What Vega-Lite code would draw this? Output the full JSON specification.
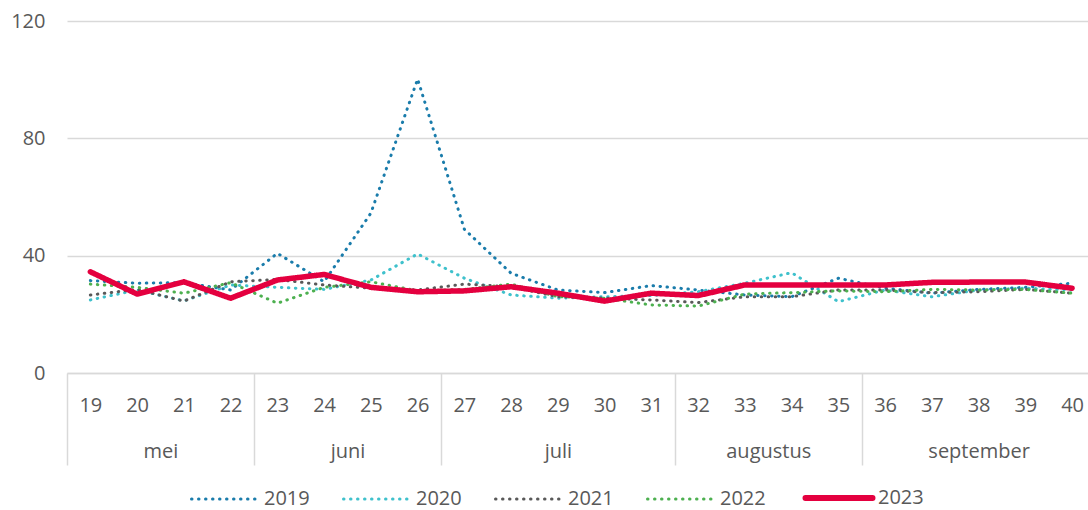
{
  "$schema": "https://vega.github.io/schema/vega-lite/v6.json",
  "width": 1021,
  "height": 352,
  "autosize": {"type": "none"},
  "padding": {"left": 67, "top": 21, "right": 0, "bottom": 137},
  "background": "white",
  "config": {
    "font": "Open Sans",
    "view": {"stroke": null},
    "axis": {"labelColor": "#595959", "labelFontSize": 20, "title": null}
  },
  "datasets": {
    "series": [
      {"week":19,"year":"2019","value":31.5},{"week":20,"year":"2019","value":30.6},{"week":21,"year":"2019","value":30.8},{"week":22,"year":"2019","value":28.3},{"week":23,"year":"2019","value":40.8},{"week":24,"year":"2019","value":31.1},{"week":25,"year":"2019","value":54.5},{"week":26,"year":"2019","value":100.2},{"week":27,"year":"2019","value":49.0},{"week":28,"year":"2019","value":34.0},{"week":29,"year":"2019","value":28.3},{"week":30,"year":"2019","value":27.4},{"week":31,"year":"2019","value":29.8},{"week":32,"year":"2019","value":28.3},{"week":33,"year":"2019","value":26.6},{"week":34,"year":"2019","value":26.0},{"week":35,"year":"2019","value":32.3},{"week":36,"year":"2019","value":28.9},{"week":37,"year":"2019","value":27.2},{"week":38,"year":"2019","value":28.5},{"week":39,"year":"2019","value":29.2},{"week":40,"year":"2019","value":30.6},
      {"week":19,"year":"2020","value":24.9},{"week":20,"year":"2020","value":28.3},{"week":21,"year":"2020","value":24.6},{"week":22,"year":"2020","value":30.0},{"week":23,"year":"2020","value":29.2},{"week":24,"year":"2020","value":28.5},{"week":25,"year":"2020","value":31.7},{"week":26,"year":"2020","value":40.6},{"week":27,"year":"2020","value":32.3},{"week":28,"year":"2020","value":26.6},{"week":29,"year":"2020","value":25.5},{"week":30,"year":"2020","value":26.0},{"week":31,"year":"2020","value":26.4},{"week":32,"year":"2020","value":27.7},{"week":33,"year":"2020","value":30.6},{"week":34,"year":"2020","value":34.2},{"week":35,"year":"2020","value":24.3},{"week":36,"year":"2020","value":28.3},{"week":37,"year":"2020","value":26.0},{"week":38,"year":"2020","value":28.3},{"week":39,"year":"2020","value":28.9},{"week":40,"year":"2020","value":28.3},
      {"week":19,"year":"2021","value":26.6},{"week":20,"year":"2021","value":28.5},{"week":21,"year":"2021","value":24.5},{"week":22,"year":"2021","value":31.1},{"week":23,"year":"2021","value":31.9},{"week":24,"year":"2021","value":30.0},{"week":25,"year":"2021","value":28.9},{"week":26,"year":"2021","value":28.3},{"week":27,"year":"2021","value":30.3},{"week":28,"year":"2021","value":29.4},{"week":29,"year":"2021","value":26.0},{"week":30,"year":"2021","value":25.5},{"week":31,"year":"2021","value":24.9},{"week":32,"year":"2021","value":24.0},{"week":33,"year":"2021","value":26.0},{"week":34,"year":"2021","value":26.0},{"week":35,"year":"2021","value":28.3},{"week":36,"year":"2021","value":28.3},{"week":37,"year":"2021","value":27.4},{"week":38,"year":"2021","value":27.7},{"week":39,"year":"2021","value":28.5},{"week":40,"year":"2021","value":27.2},
      {"week":19,"year":"2022","value":30.3},{"week":20,"year":"2022","value":29.2},{"week":21,"year":"2022","value":27.2},{"week":22,"year":"2022","value":30.8},{"week":23,"year":"2022","value":23.8},{"week":24,"year":"2022","value":29.2},{"week":25,"year":"2022","value":31.1},{"week":26,"year":"2022","value":28.0},{"week":27,"year":"2022","value":28.5},{"week":28,"year":"2022","value":30.3},{"week":29,"year":"2022","value":26.0},{"week":30,"year":"2022","value":25.5},{"week":31,"year":"2022","value":23.2},{"week":32,"year":"2022","value":22.8},{"week":33,"year":"2022","value":26.9},{"week":34,"year":"2022","value":27.4},{"week":35,"year":"2022","value":28.0},{"week":36,"year":"2022","value":27.7},{"week":37,"year":"2022","value":28.5},{"week":38,"year":"2022","value":28.3},{"week":39,"year":"2022","value":28.5},{"week":40,"year":"2022","value":27.2},
      {"week":19,"year":"2023","value":34.5},{"week":20,"year":"2023","value":26.9},{"week":21,"year":"2023","value":31.1},{"week":22,"year":"2023","value":25.5},{"week":23,"year":"2023","value":31.7},{"week":24,"year":"2023","value":33.6},{"week":25,"year":"2023","value":29.2},{"week":26,"year":"2023","value":27.7},{"week":27,"year":"2023","value":28.0},{"week":28,"year":"2023","value":29.4},{"week":29,"year":"2023","value":27.2},{"week":30,"year":"2023","value":24.5},{"week":31,"year":"2023","value":27.2},{"week":32,"year":"2023","value":26.4},{"week":33,"year":"2023","value":30.0},{"week":34,"year":"2023","value":30.0},{"week":35,"year":"2023","value":30.0},{"week":36,"year":"2023","value":30.0},{"week":37,"year":"2023","value":30.9},{"week":38,"year":"2023","value":31.0},{"week":39,"year":"2023","value":31.0},{"week":40,"year":"2023","value":28.9}
    ],
    "months": [
      {"month":"mei","start":18.5,"mid":20.5},
      {"month":"juni","start":22.5,"mid":24.5},
      {"month":"juli","start":26.5,"mid":29},
      {"month":"augustus","start":31.5,"mid":33.5},
      {"month":"september","start":35.5,"mid":38}
    ]
  },
  "layer": [
    {
      "data": {"name": "series"},
      "mark": {"type": "line", "strokeCap": "round", "strokeJoin": "round"},
      "encoding": {
        "x": {
          "field": "week", "type": "quantitative",
          "scale": {"domain": [18.5, 40.34], "nice": false, "zero": false},
          "axis": {
            "orient": "bottom",
            "values": [19,20,21,22,23,24,25,26,27,28,29,30,31,32,33,34,35,36,37,38,39,40],
            "format": "d",
            "grid": false, "ticks": false,
            "domain": true, "domainColor": "#D9D9D9", "domainWidth": 1.5,
            "labelPadding": 22, "labelFlush": false, "labelOverlap": false
          }
        },
        "y": {
          "field": "value", "type": "quantitative",
          "scale": {"domain": [0, 120], "nice": false},
          "axis": {
            "values": [0, 40, 80, 120],
            "grid": true, "gridColor": "#D9D9D9", "gridWidth": 1.5,
            "domain": false, "ticks": false, "labelPadding": 22
          }
        },
        "color": {
          "field": "year", "type": "nominal",
          "scale": {"domain": ["2019","2020","2021","2022","2023"], "range": ["#1A7CAB","#3FC1CC","#595959","#4DB050","#E4003F"]},
          "legend": {
            "orient": "none", "legendX": 148, "legendY": 467,
            "direction": "horizontal", "title": null,
            "symbolType": "stroke", "symbolSize": 4489,
            "labelFontSize": 20, "labelColor": "#595959",
            "labelOffset": 29, "columnPadding": 27, "padding": 0,
            "encode": {"symbols": {"update": {
              "strokeCap": {"value": "round"},
              "strokeWidth": {"signal": "datum.value == '2023' ? 6 : 3"}
            }}}
          }
        },
        "strokeDash": {
          "field": "year", "type": "nominal",
          "scale": {"domain": ["2019","2020","2021","2022","2023"], "range": [[0.5,6.5],[0.5,6.5],[0.5,6.5],[0.5,6.5],[1,0]]}
        },
        "strokeWidth": {
          "condition": {"test": "datum.year == '2023'", "value": 5.5},
          "value": 3
        }
      }
    },
    {
      "data": {"name": "months"},
      "mark": {"type": "tick", "opacity": 0},
      "encoding": {
        "x": {
          "field": "mid", "type": "quantitative",
          "scale": {"domain": [18.5, 40.34], "nice": false, "zero": false},
          "axis": {
            "orient": "bottom",
            "values": [20.5, 24.5, 29, 33.5, 38],
            "labelExpr": "datum.value == 20.5 ? 'mei' : datum.value == 24.5 ? 'juni' : datum.value == 29 ? 'juli' : datum.value == 33.5 ? 'augustus' : 'september'",
            "grid": false, "ticks": false, "domain": false,
            "labelPadding": 68, "labelFlush": false, "labelOverlap": false
          }
        }
      }
    },
    {
      "data": {"name": "months"},
      "mark": {"type": "tick", "opacity": 0},
      "encoding": {
        "x": {
          "field": "start", "type": "quantitative",
          "scale": {"domain": [18.5, 40.34], "nice": false, "zero": false},
          "axis": {
            "orient": "bottom",
            "values": [18.5, 22.5, 26.5, 31.5, 35.5],
            "labels": false, "grid": false, "domain": false,
            "ticks": true, "tickSize": 92, "tickColor": "#D9D9D9", "tickWidth": 1.5
          }
        }
      }
    }
  ],
  "resolve": {"axis": {"x": "independent"}}
}
